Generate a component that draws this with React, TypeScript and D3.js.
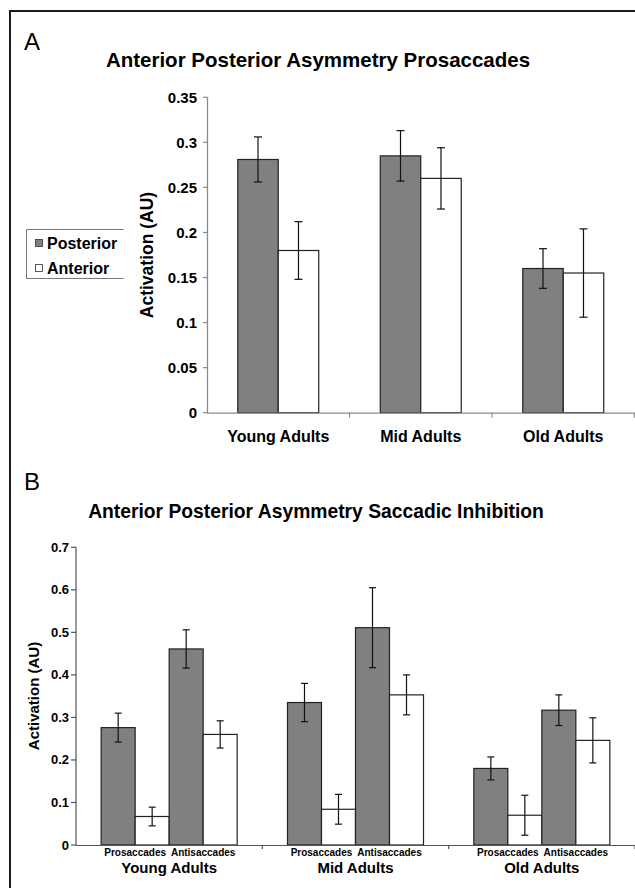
import React from "react";
import * as d3 from "d3";

// ---- Data ----
const groups = ["Young Adults", "Mid Adults", "Old Adults"];
const seriesNames = ["Posterior", "Anterior"];
const conditions = ["Prosaccades", "Antisaccades"];

// Panel A (prosaccades)
const posteriorA = [0.281, 0.285, 0.16];
const posteriorErrA = [0.025, 0.028, 0.022];
const anteriorA = [0.18, 0.26, 0.155];
const anteriorErrA = [0.032, 0.034, 0.049];
const ticksA = [0, 0.05, 0.1, 0.15, 0.2, 0.25, 0.3, 0.35];

// Panel B (saccadic inhibition)
const proPosteriorB = [0.276, 0.335, 0.18];
const proPosteriorErrB = [0.034, 0.045, 0.027];
const proAnteriorB = [0.067, 0.084, 0.07];
const proAnteriorErrB = [0.022, 0.035, 0.047];
const antiPosteriorB = [0.461, 0.511, 0.317];
const antiPosteriorErrB = [0.045, 0.094, 0.036];
const antiAnteriorB = [0.26, 0.353, 0.246];
const antiAnteriorErrB = [0.032, 0.047, 0.053];
const ticksB = [0, 0.1, 0.2, 0.3, 0.4, 0.5, 0.6, 0.7];

const FONT = "'Liberation Sans', Arial, sans-serif";
const FILLS: Record<string, string> = { Posterior: "#808080", Anterior: "#ffffff" };

function ErrBar({ x, y, e, cap }: { x: number; y: d3.ScaleLinear<number, number>; e: [number, number]; cap: number }) {
  const y1 = y(e[0]);
  const y2 = y(e[1]);
  return (
    <g stroke="#111" strokeWidth={1.2}>
      <line x1={x} x2={x} y1={y1} y2={y2} />
      <line x1={x - cap} x2={x + cap} y1={y1} y2={y1} />
      <line x1={x - cap} x2={x + cap} y1={y2} y2={y2} />
    </g>
  );
}

export default function App() {
  // ---- Panel A scales ----
  const xA = d3.scaleBand<string>().domain(groups).range([207, 634.5]).padding(0);
  const sA = d3.scaleBand<string>().domain(seriesNames).range([0, xA.bandwidth()]).paddingInner(0).paddingOuter(0.76);
  const yA = d3.scaleLinear().domain([0, 0.35]).range([412.7, 97.3]);

  const dataA = seriesNames.map((s) => ({
    s,
    vals: s === "Posterior" ? posteriorA : anteriorA,
    errs: s === "Posterior" ? posteriorErrA : anteriorErrA,
  }));

  // ---- Panel B scales ----
  const xB = d3.scaleBand<string>().domain(groups).range([76, 635]).padding(0);
  const cB = d3.scaleBand<string>().domain(conditions).range([0, xB.bandwidth()]).paddingInner(0).paddingOuter(0.37);
  const sB = d3.scaleBand<string>().domain(seriesNames).range([0, cB.bandwidth()]).padding(0);
  const yB = d3.scaleLinear().domain([0, 0.7]).range([845, 547.3]);

  const dataB = [
    { c: "Prosaccades", s: "Posterior", vals: proPosteriorB, errs: proPosteriorErrB },
    { c: "Prosaccades", s: "Anterior", vals: proAnteriorB, errs: proAnteriorErrB },
    { c: "Antisaccades", s: "Posterior", vals: antiPosteriorB, errs: antiPosteriorErrB },
    { c: "Antisaccades", s: "Anterior", vals: antiAnteriorB, errs: antiAnteriorErrB },
  ];

  const fmt = (v: number) => (v === 0 ? "0" : String(+v.toFixed(2)));
  const axisGray = "#8a8a8a";

  return (
    <svg width={635} height={888} style={{ position: "absolute", left: 0, top: 0, background: "#fff" }} fontFamily={FONT}>
      <rect x={0} y={0} width={635} height={888} fill="#fff" />
      {/* frame */}
      <line x1={9} x2={635} y1={11} y2={11} stroke="#1a1a1a" strokeWidth={2} />
      <line x1={10} x2={10} y1={10} y2={888} stroke="#1a1a1a" strokeWidth={2} />

      {/* ===== Panel A ===== */}
      <text x={24} y={50} fontSize={24}>A</text>
      <text x={318} y={67} fontSize={20.5} fontWeight="bold" textAnchor="middle">
        Anterior Posterior Asymmetry Prosaccades
      </text>

      {/* bars A */}
      {dataA.map((d) =>
        groups.map((g, i) => {
          const x0 = (xA(g) as number) + (sA(d.s) as number);
          const w = sA.bandwidth();
          return (
            <rect key={d.s + g} x={x0} y={yA(d.vals[i])} width={w} height={yA(0) - yA(d.vals[i])}
              fill={FILLS[d.s]} stroke="#222" strokeWidth={1.2} />
          );
        })
      )}
      {dataA.map((d) =>
        groups.map((g, i) => {
          const cx = (xA(g) as number) + (sA(d.s) as number) + sA.bandwidth() / 2;
          return <ErrBar key={"e" + d.s + g} x={cx} y={yA} e={[d.vals[i] - d.errs[i], d.vals[i] + d.errs[i]]} cap={4} />;
        })
      )}

      {/* axes A */}
      <line x1={207.5} x2={207.5} y1={yA(0.35)} y2={yA(0)} stroke={axisGray} strokeWidth={1.3} />
      <line x1={207} x2={635} y1={yA(0) + 0.5} y2={yA(0) + 0.5} stroke={axisGray} strokeWidth={1.3} />
      {ticksA.map((t) => (
        <g key={"ta" + t}>
          <line x1={203} x2={207.5} y1={yA(t)} y2={yA(t)} stroke={axisGray} strokeWidth={1.2} />
          <text x={197} y={yA(t) + 5.5} fontSize={15} fontWeight="bold" textAnchor="end">{fmt(t)}</text>
        </g>
      ))}
      {groups.map((g) => (
        <line key={"gta" + g} x1={(xA(g) as number) + xA.bandwidth()} x2={(xA(g) as number) + xA.bandwidth()}
          y1={yA(0)} y2={yA(0) + 5} stroke={axisGray} strokeWidth={1.2} />
      ))}
      {groups.map((g) => (
        <text key={"gla" + g} x={(xA(g) as number) + xA.bandwidth() / 2} y={442} fontSize={16} fontWeight="bold" textAnchor="middle">
          {g}
        </text>
      ))}
      <text transform={`translate(153,255) rotate(-90)`} fontSize={17.5} fontWeight="bold" textAnchor="middle">
        Activation (AU)
      </text>

      {/* legend */}
      <path d="M123.5,229.5 H26.5 V278.5 H123.5" fill="none" stroke="#777" strokeWidth={1} />
      {seriesNames.map((s, i) => (
        <g key={"lg" + s}>
          <rect x={35.5} y={239.5 + i * 25} width={7} height={7} fill={FILLS[s]} stroke="#333" strokeWidth={0.8} />
          <text x={47} y={248.5 + i * 25} fontSize={16} fontWeight="bold">{s}</text>
        </g>
      ))}

      {/* ===== Panel B ===== */}
      <text x={24} y={490} fontSize={24}>B</text>
      <text x={316} y={518} fontSize={19.3} fontWeight="bold" textAnchor="middle">
        Anterior Posterior Asymmetry Saccadic Inhibition
      </text>

      {dataB.map((d) =>
        groups.map((g, i) => {
          const x0 = (xB(g) as number) + (cB(d.c) as number) + (sB(d.s) as number);
          const w = sB.bandwidth();
          return (
            <rect key={d.c + d.s + g} x={x0} y={yB(d.vals[i])} width={w} height={yB(0) - yB(d.vals[i])}
              fill={FILLS[d.s]} stroke="#222" strokeWidth={1.2} />
          );
        })
      )}
      {dataB.map((d) =>
        groups.map((g, i) => {
          const cx = (xB(g) as number) + (cB(d.c) as number) + (sB(d.s) as number) + sB.bandwidth() / 2;
          return <ErrBar key={"eb" + d.c + d.s + g} x={cx} y={yB} e={[d.vals[i] - d.errs[i], d.vals[i] + d.errs[i]]} cap={3.5} />;
        })
      )}

      {/* axes B */}
      <line x1={76} x2={76} y1={yB(0.7)} y2={yB(0)} stroke="#555" strokeWidth={1.2} />
      <line x1={76} x2={635} y1={yB(0) + 0.5} y2={yB(0) + 0.5} stroke="#555" strokeWidth={1.2} />
      {ticksB.map((t) => (
        <g key={"tb" + t}>
          <line x1={71} x2={76} y1={yB(t)} y2={yB(t)} stroke="#555" strokeWidth={1.2} />
          <text x={69} y={yB(t) + 4.5} fontSize={13} fontWeight="bold" textAnchor="end">{fmt(t)}</text>
        </g>
      ))}
      {groups.map((g) => (
        <line key={"gtb" + g} x1={(xB(g) as number) + xB.bandwidth()} x2={(xB(g) as number) + xB.bandwidth()}
          y1={yB(0)} y2={yB(0) + 4} stroke="#555" strokeWidth={1.2} />
      ))}
      {groups.map((g) =>
        conditions.map((c) => (
          <text key={"cl" + g + c} x={(xB(g) as number) + (cB(c) as number) + cB.bandwidth() / 2} y={856}
            fontSize={10} fontWeight="bold" textAnchor="middle">
            {c}
          </text>
        ))
      )}
      {groups.map((g) => (
        <text key={"glb" + g} x={(xB(g) as number) + xB.bandwidth() / 2} y={873} fontSize={15} fontWeight="bold" textAnchor="middle">
          {g}
        </text>
      ))}
      <text transform={`translate(39,696) rotate(-90)`} fontSize={15} fontWeight="bold" textAnchor="middle">
        Activation (AU)
      </text>
    </svg>
  );
}
